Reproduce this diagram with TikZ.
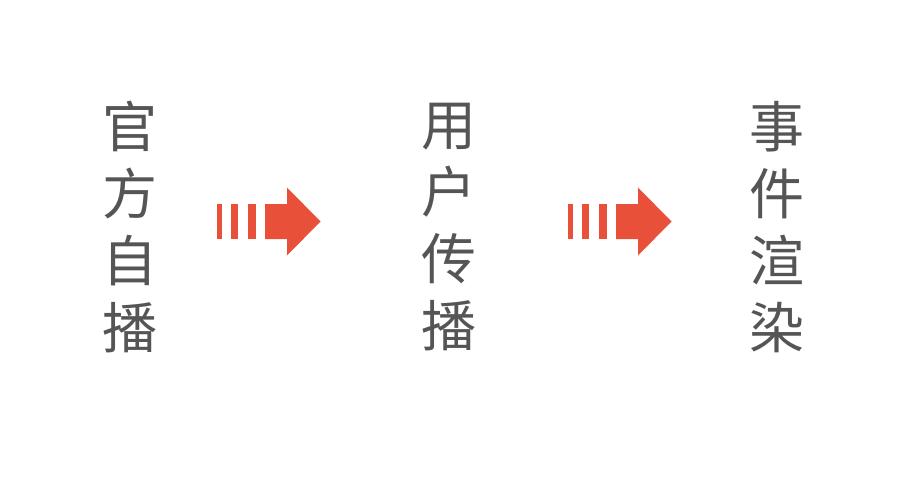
\documentclass[tikz,border=0pt]{standalone}
\usepackage{fontspec}
\newfontfamily\cjk{Noto Sans CJK SC}
\definecolor{txtgray}{HTML}{555555}
\definecolor{arrred}{HTML}{E9503A}
\tikzset{
  colbox/.style={inner sep=0pt, align=center, text=txtgray, font=\cjk\fontsize{55}{67}\selectfont},
  pics/fastarrow/.style={code={
    \fill[arrred] (0,-17.5) rectangle (5,17.5);
    \fill[arrred] (13.5,-17.5) rectangle (21,17.5);
    \fill[arrred] (30.5,-17.5) rectangle (38.5,17.5);
    \fill[arrred] (48,-17.5) -- (70,-17.5) -- (70,-34) -- (103.5,0) -- (70,34) -- (70,17.5) -- (48,17.5) -- cycle;
  }}
}
\begin{document}
\begin{tikzpicture}[x=1pt,y=-1pt]
\useasboundingbox (0,0) rectangle (900,500);
\node[colbox] (c1) at (130,227) {官\\方\\自\\播};
\node[colbox] (c2) at (449,227) {用\\户\\传\\播};
\node[colbox] (c3) at (777,227) {事\\件\\渲\\染};
\coordinate (a1) at (217,221.5);
\coordinate (a2) at (568,221.5);
\pic at (a1) {fastarrow};
\pic at (a2) {fastarrow};
\end{tikzpicture}
\end{document}
